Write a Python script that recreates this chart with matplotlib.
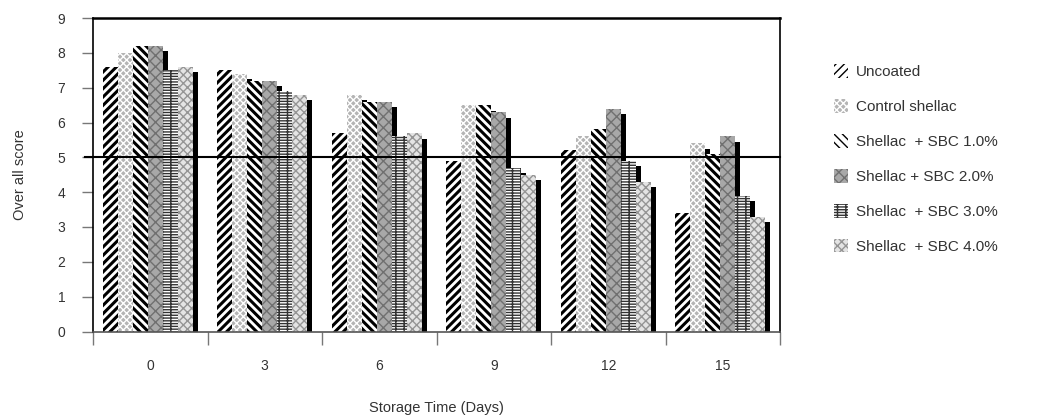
import matplotlib
matplotlib.use("Agg")
import matplotlib.pyplot as plt
import numpy as np
from matplotlib.patches import Patch

days = ["0", "3", "6", "9", "12", "15"]
series_names = ["Uncoated", "Control shellac", "Shellac  + SBC 1.0%",
                "Shellac + SBC 2.0%", "Shellac  + SBC 3.0%", "Shellac  + SBC 4.0%"]
uncoated = [7.6, 7.5, 5.7, 4.9, 5.2, 3.4]
control_shellac = [8.0, 7.4, 6.8, 6.5, 5.6, 5.4]
sbc_1 = [8.2, 7.2, 6.6, 6.5, 5.8, 5.1]
sbc_2 = [8.2, 7.2, 6.6, 6.3, 6.4, 5.6]
sbc_3 = [7.5, 6.9, 5.6, 4.7, 4.9, 3.9]
sbc_4 = [7.6, 6.8, 5.7, 4.5, 4.3, 3.3]
series = [uncoated, control_shellac, sbc_1, sbc_2, sbc_3, sbc_4]
reference_score = 5

styles = [
    dict(facecolor="white", edgecolor="black", hatch="////", hlw=2.2),
    dict(facecolor="#b4b4b4", edgecolor="white", hatch="xxxxx", hlw=1.0),
    dict(facecolor="white", edgecolor="black", hatch="\\\\\\\\", hlw=2.2),
    dict(facecolor="#a8a8a8", edgecolor="#707070", hatch="xxx", hlw=1.0),
    dict(facecolor="white", edgecolor="#333333", hatch="------||", hlw=1.0),
    dict(facecolor="#e4e4e4", edgecolor="#959595", hatch="xxxx", hlw=1.0),
]

text_color = "#333333"
plt.rcParams["font.family"] = ["Liberation Sans", "DejaVu Sans"]

fig = plt.figure(figsize=(10.41, 4.16), dpi=100)
ax = fig.add_axes([93 / 1041, 1 - 331.5 / 416, (780 - 93) / 1041, (331.5 - 18) / 416])

x = np.arange(len(days))
bw = 0.131
shx = 0.044
shy = 0.16
n = len(series)
offsets = (np.arange(n) - (n - 1) / 2) * bw - 0.02

# shadows
for i, vals in enumerate(series):
    v = np.array(vals)
    ax.bar(x + offsets[i] + shx, v - shy, width=bw, color="black", linewidth=0, zorder=1)

handles = []
for i, vals in enumerate(series):
    st = styles[i]
    plt.rcParams["hatch.linewidth"] = st["hlw"]
    bars = ax.bar(x + offsets[i], vals, width=bw, facecolor=st["facecolor"],
                  edgecolor=st["edgecolor"], hatch=st["hatch"], linewidth=0, zorder=2)
    for b in bars:
        try:
            b.set_hatch_linewidth(st["hlw"])
        except AttributeError:
            pass
    hp = Patch(facecolor=st["facecolor"], edgecolor=st["edgecolor"], hatch=st["hatch"], linewidth=0)
    try:
        hp.set_hatch_linewidth(st["hlw"])
    except AttributeError:
        pass
    handles.append(hp)

ax.axhline(reference_score, color="black", linewidth=1.5, zorder=3, clip_on=False,
           xmin=-0.012, xmax=1.0)

ax.set_xlim(-0.5, len(days) - 0.5)
ax.set_ylim(0, 9)
ax.set_yticks(range(0, 10))
ax.tick_params(axis="y", direction="out", length=8, width=1, color="#777777",
               labelsize=10, labelcolor=text_color, pad=12)
ax.set_xticks(x)
ax.set_xticklabels(days)
ax.set_xticks(np.arange(len(days) + 1) - 0.5, minor=True)
ax.tick_params(axis="x", which="major", length=0, labelsize=10, labelcolor=text_color, pad=20)
ax.tick_params(axis="x", which="minor", direction="out", length=9, width=1, color="#777777")

for s in ax.spines.values():
    s.set_color("black")
    s.set_linewidth(1.2)
ax.spines["top"].set_linewidth(1.8)
ax.spines["bottom"].set_color("#555555")

ax.set_ylabel("Over all score", fontsize=10.5, color=text_color, labelpad=22)
ax.set_xlabel("Storage Time (Days)", fontsize=10.5, color=text_color, labelpad=20)

leg = fig.legend(handles=handles, labels=series_names, loc="upper left",
                 bbox_to_anchor=(828 / 1041, 1 - 58 / 416), frameon=False,
                 fontsize=11, handlelength=0.9, handleheight=1.0, handletextpad=0.5,
                 labelspacing=1.3, borderaxespad=0)
for t in leg.get_texts():
    t.set_color(text_color)

fig.savefig("out.png", dpi=100)
